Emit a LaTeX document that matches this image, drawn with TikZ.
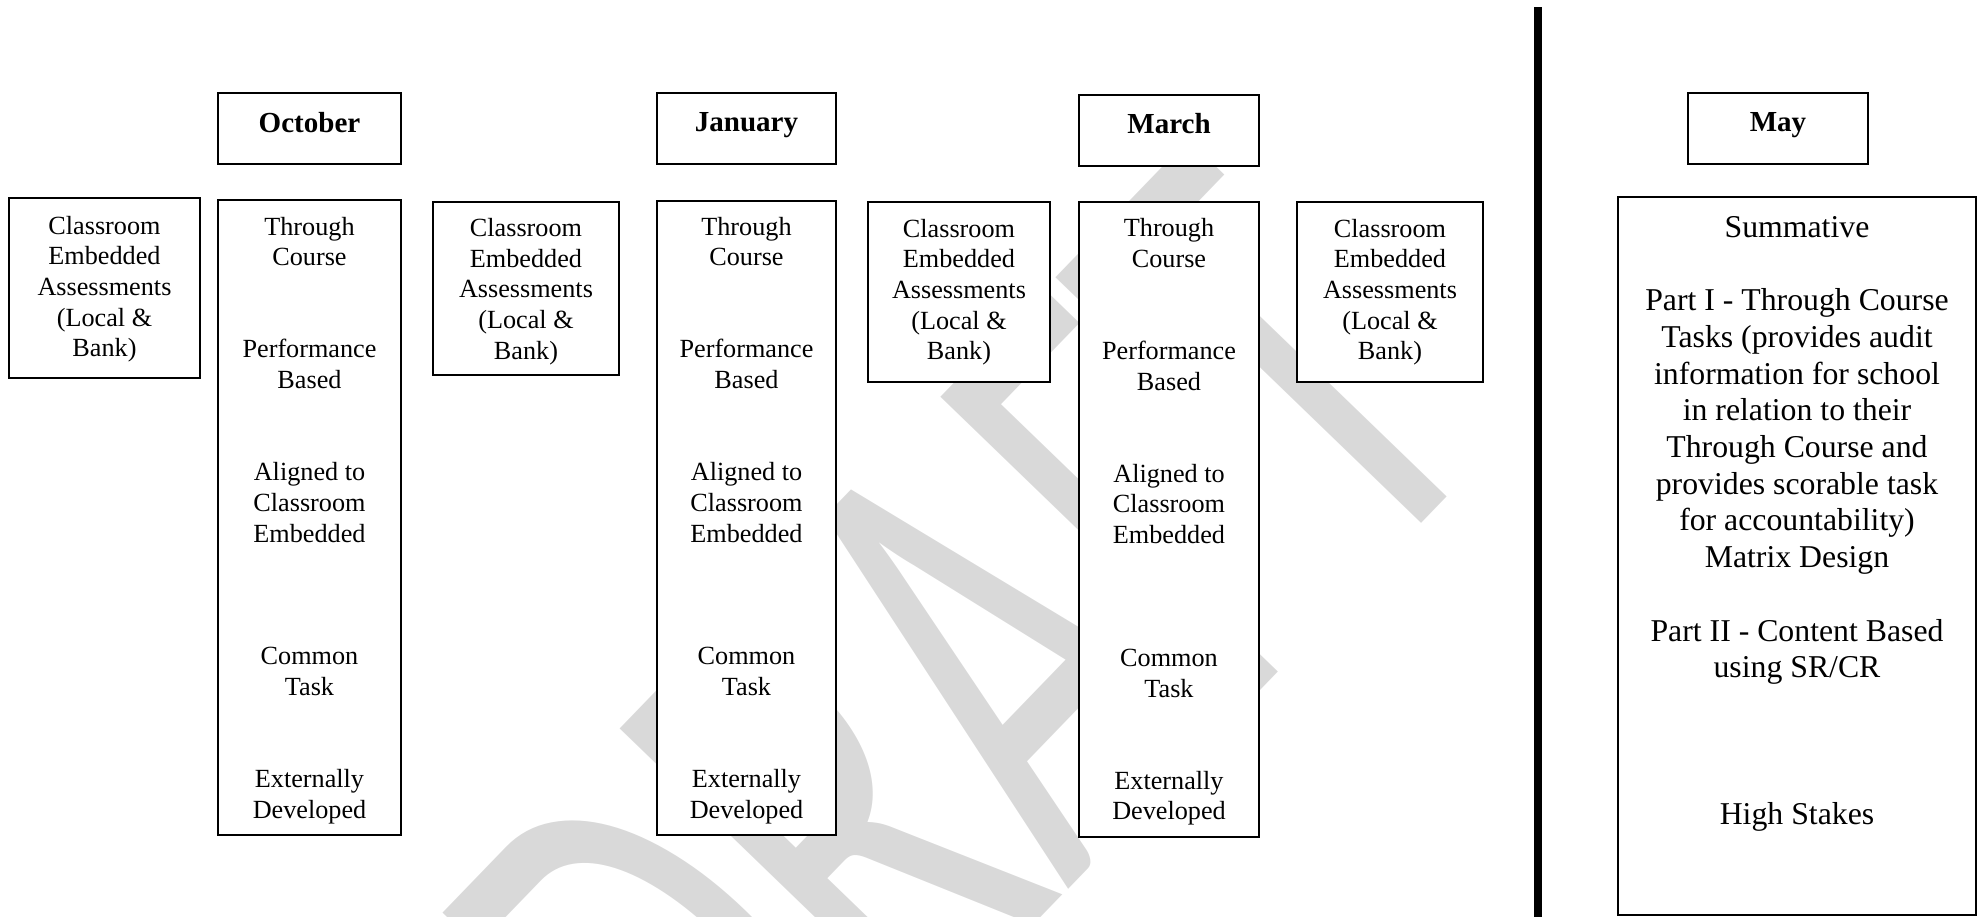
\documentclass[tikz,border=0pt]{standalone}
\usepackage{fontspec}
\setmainfont{Liberation Serif}
\newfontfamily\wmfont{Carlito}
\usetikzlibrary{fit}
\definecolor{wmgray}{RGB}{217,217,217}
\newcommand\boxn[5]{%
  \coordinate (#1-a) at (#2,#3);
  \coordinate (#1-b) at (#4,#5);
  \node[box, fit=(#1-a)(#1-b)] (#1) {};}
\newcommand\coltext[3]{%
  \foreach \k/\t in {0/Through,1/Course,4/Performance,5/Based,8/Aligned to,9/Classroom,10/Embedded,14/Common,15/Task,18/Externally,19/Developed}
    {\node[ln] (#1-\k) at (#2,{#3+\k*30.7}) {\t};}}
\newcommand\ceatext[3]{%
  \foreach \k/\t in {0/Classroom,1/Embedded,2/Assessments,3/(Local \&,4/Bank)}
    {\node[ln] (#1-\k) at (#2,{#3+\k*30.7}) {\t};}}
\begin{document}
\begin{tikzpicture}[x=0.458pt,y=-0.458pt,
  box/.style={draw, line width=0.65pt, fill=white, inner sep=0pt, outer sep=0pt},
  ln/.style={anchor=base, inner sep=0pt, font=\fontsize{12}{14}\selectfont},
  mon/.style={anchor=base, inner sep=0pt, font=\fontsize{13.3}{15}\selectfont\bfseries},
  sm/.style={anchor=base, inner sep=0pt, font=\fontsize{14.55}{16.8}\selectfont},
  wm/.style={anchor=base, inner sep=0pt, text=wmgray, font=\wmfont\fontsize{309.6}{309.6}\selectfont}
]
\useasboundingbox (0,0) rectangle (1986,917);
\clip (0,0) rectangle (1986,917);

% watermark
\node[wm, rotate=46, xscale=0.61] (draft) at (1120,836) {DRAFT};

% boxes
\boxn{cea1}{9}{198}{200}{378}
\boxn{octm}{218}{93}{401}{164}
\boxn{octc}{218}{200}{401}{835}
\boxn{cea2}{433}{202}{619}{375}
\boxn{janm}{657}{93}{836}{164}
\boxn{janc}{657}{201}{836}{835}
\boxn{cea3}{868}{202}{1050}{382}
\boxn{marm}{1079}{95}{1259}{166}
\boxn{marc}{1079}{202}{1259}{837}
\boxn{cea4}{1297}{202}{1483}{382}
\boxn{maym}{1688}{93}{1868}{164}
\boxn{summ}{1618}{197}{1976}{915}

% divider
\coordinate (div-top) at (1538,7);
\coordinate (div-bot) at (1538,930);
\draw[line width=3.3pt] (div-top) -- (div-bot);

% month labels
\node[mon] (oct) at (309.5,132.3) {October};
\node[mon] (jan) at (746.5,131.7) {January};
\node[mon] (mar) at (1169,134) {March};
\node[mon] (may) at (1778,131.7) {May};

% column texts
\coltext{octt}{309.5}{235}
\coltext{jant}{746.5}{235}
\coltext{mart}{1169}{236.5}

% classroom embedded assessment texts
\ceatext{cea1t}{104.5}{234}
\ceatext{cea2t}{526}{236.5}
\ceatext{cea3t}{959}{237}
\ceatext{cea4t}{1390}{237}

% summative texts
\node[sm] (s0) at (1797,237.3) {Summative};
\node[sm] (s2) at (1797,{237.3+2*36.7}) {Part I - Through Course};
\node[sm] (s3) at (1797,{237.3+3*36.7}) {Tasks (provides audit};
\node[sm] (s4) at (1797,{237.3+4*36.7}) {information for school};
\node[sm] (s5) at (1797,{237.3+5*36.7}) {in relation to their};
\node[sm] (s6) at (1797,{237.3+6*36.7}) {Through Course and};
\node[sm] (s7) at (1797,{237.3+7*36.7}) {provides scorable task};
\node[sm] (s8) at (1797,{237.3+8*36.7}) {for accountability)};
\node[sm] (s9) at (1797,{237.3+9*36.7}) {Matrix Design};
\node[sm] (s11) at (1797,{237.3+11*36.7}) {Part II - Content Based};
\node[sm] (s12) at (1797,{237.3+12*36.7}) {using SR/CR};
\node[sm] (s16) at (1797,{237.3+16*36.7}) {High Stakes};
\end{tikzpicture}
\end{document}
